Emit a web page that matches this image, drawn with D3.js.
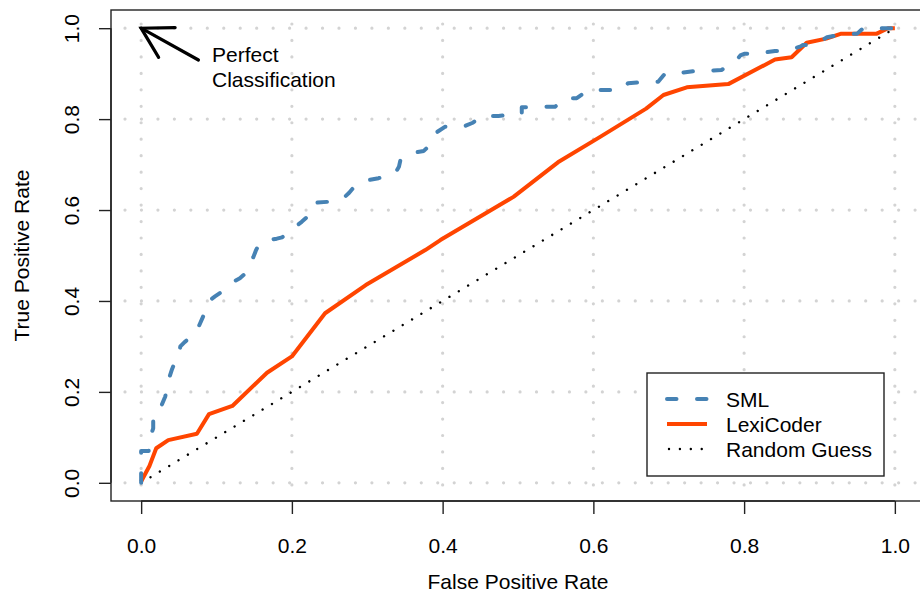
<!DOCTYPE html>
<html>
<head>
<meta charset="utf-8">
<script src="https://cdn.jsdelivr.net/npm/d3@7"></script>
<style>
  html, body { margin: 0; padding: 0; background: #fff; }
  svg { display: block; font-family: "Liberation Sans", Arial, Helvetica, sans-serif; }
</style>
</head>
<body>
<svg id="chart" width="920" height="597"></svg>
<script>
// ---- data ----
const ticks = [0, 0.2, 0.4, 0.6, 0.8, 1.0];
const tickLabels = ["0.0", "0.2", "0.4", "0.6", "0.8", "1.0"];
const seriesNames = ["SML", "LexiCoder", "Random Guess"];

const smlFPR = [0,0,0.01,0.012,0.016,0.016,0.02,0.027,0.032,0.037,0.041,0.046,0.05,0.052,0.058,0.065,0.074,0.078,0.082,0.087,0.09,0.098,0.107,0.113,0.12,0.131,0.138,0.143,0.149,0.152,0.157,0.17,0.18,0.187,0.2,0.206,0.213,0.223,0.228,0.231,0.247,0.26,0.267,0.276,0.282,0.29,0.302,0.315,0.324,0.337,0.342,0.344,0.353,0.365,0.375,0.383,0.388,0.393,0.403,0.415,0.427,0.44,0.45,0.456,0.474,0.49,0.496,0.505,0.505,0.532,0.549,0.56,0.562,0.578,0.59,0.596,0.611,0.638,0.646,0.671,0.686,0.695,0.699,0.718,0.739,0.757,0.77,0.777,0.788,0.795,0.801,0.818,0.841,0.857,0.875,0.878,0.894,0.905,0.91,0.925,0.94,0.95,0.958,0.983,1];
const smlTPR = [0,0.07,0.07,0.10,0.12,0.15,0.16,0.17,0.19,0.23,0.25,0.27,0.28,0.30,0.31,0.32,0.335,0.35,0.365,0.387,0.40,0.41,0.42,0.43,0.44,0.45,0.46,0.477,0.497,0.51,0.527,0.534,0.537,0.54,0.555,0.565,0.574,0.589,0.61,0.616,0.618,0.62,0.624,0.638,0.65,0.66,0.666,0.67,0.675,0.681,0.695,0.71,0.723,0.727,0.73,0.743,0.76,0.772,0.783,0.783,0.783,0.792,0.805,0.807,0.807,0.81,0.812,0.812,0.826,0.827,0.827,0.84,0.846,0.846,0.86,0.864,0.864,0.864,0.879,0.882,0.882,0.9,0.902,0.902,0.907,0.907,0.908,0.915,0.926,0.94,0.944,0.944,0.95,0.95,0.96,0.963,0.963,0.975,0.98,0.985,0.987,0.988,1.0,1.0,1];

const lexFPR = [0,0.011,0.02,0.036,0.074,0.09,0.121,0.167,0.2,0.244,0.298,0.377,0.397,0.494,0.553,0.609,0.670,0.693,0.724,0.779,0.841,0.863,0.883,0.909,0.929,0.976,0.991,1];
const lexTPR = [0.003,0.037,0.076,0.094,0.108,0.151,0.169,0.242,0.278,0.373,0.435,0.512,0.534,0.629,0.705,0.761,0.823,0.853,0.870,0.877,0.931,0.936,0.968,0.977,0.988,0.988,1.0,1];

const randFPR = [0, 1];
const randTPR = [0, 1];

const arrowFrom = [0.076, 0.93];
const arrowTo = [0, 1];
const annotText = ["Perfect", "Classification"];
const annotPos = [0.094, 0.96];

// ---- layout ----
const svg = d3.select("#chart");
const x = d3.scaleLinear().domain([-0.04, 1.04]).range([111, 925]);
const y = d3.scaleLinear().domain([-0.04, 1.04]).range([501, 10]);

const blue = "#4682B4", orange = "#FF4500";
const FS = 21;

svg.append("defs").append("clipPath").attr("id", "clip")
  .append("rect").attr("x", x(-0.04)).attr("y", y(1.04))
  .attr("width", x(1.04) - x(-0.04)).attr("height", y(-0.04) - y(1.04));

const plot = svg.append("g").attr("clip-path", "url(#clip)");

// grid
ticks.forEach(t => {
  plot.append("line")
    .attr("x1", x(-0.04)).attr("x2", x(1.04)).attr("y1", y(t)).attr("y2", y(t))
    .attr("stroke", "#d3d3d3").attr("stroke-width", 3.2)
    .attr("stroke-linecap", "round").attr("stroke-dasharray", "0.01 16.45")
    .attr("stroke-dashoffset", -14);
  plot.append("line")
    .attr("x1", x(t)).attr("x2", x(t)).attr("y1", y(1.04)).attr("y2", y(-0.04))
    .attr("stroke", "#d3d3d3").attr("stroke-width", 3.2)
    .attr("stroke-linecap", "round").attr("stroke-dasharray", "0.01 16.45")
    .attr("stroke-dashoffset", -14);
});

const line = d3.line().x(d => x(d[0])).y(d => y(d[1]));
const zip = (a, b) => a.map((v, i) => [v, b[i]]);

// random guess
plot.append("path").datum(zip(randFPR, randTPR)).attr("d", line)
  .attr("fill", "none").attr("stroke", "#000").attr("stroke-width", 2.4)
  .attr("stroke-linecap", "round").attr("stroke-dasharray", "0.01 10.9");

// lexicoder
plot.append("path").datum(zip(lexFPR, lexTPR)).attr("d", line)
  .attr("fill", "none").attr("stroke", orange).attr("stroke-width", 4)
  .attr("stroke-linejoin", "round");

// SML
plot.append("path").datum(zip(smlFPR, smlTPR)).attr("d", line)
  .attr("fill", "none").attr("stroke", blue).attr("stroke-width", 4)
  .attr("stroke-linecap", "round").attr("stroke-linejoin", "round")
  .attr("stroke-dasharray", "9.5 20.5");

// arrow
const ax0 = x(arrowFrom[0]), ay0 = y(arrowFrom[1]);
const ax1 = x(arrowTo[0]), ay1 = y(arrowTo[1]);
const ang = Math.atan2(ay0 - ay1, ax0 - ax1);
const hl = 34, ha = Math.PI / 6;
const ag = svg.append("g").attr("stroke", "#000").attr("stroke-width", 3.2)
  .attr("stroke-linecap", "round").attr("fill", "none");
ag.append("line").attr("x1", ax0).attr("y1", ay0).attr("x2", ax1).attr("y2", ay1);
ag.append("path").attr("d",
  `M${ax1 + hl * Math.cos(ang - ha)},${ay1 + hl * Math.sin(ang - ha)}L${ax1},${ay1}L${ax1 + hl * Math.cos(ang + ha)},${ay1 + hl * Math.sin(ang + ha)}`)
  .attr("stroke-linejoin", "miter");

// annotation
annotText.forEach((t, i) => {
  svg.append("text").attr("x", x(annotPos[0])).attr("y", 62 + i * 25)
    .attr("font-size", FS).attr("fill", "#000").text(t);
});

// box
svg.append("rect").attr("x", x(-0.04)).attr("y", y(1.04))
  .attr("width", x(1.04) - x(-0.04)).attr("height", y(-0.04) - y(1.04))
  .attr("fill", "none").attr("stroke", "#222").attr("stroke-width", 1.4);

// x axis
const xAxis = d3.axisBottom(x).tickValues(ticks).tickFormat((d, i) => tickLabels[i])
  .tickSizeInner(13).tickSizeOuter(0).tickPadding(30);
const gx = svg.append("g").attr("transform", `translate(0,${y(-0.04)})`).call(xAxis);
gx.select(".domain").attr("d", `M${x(0)},0H${x(1)}`).attr("stroke", "#222").attr("stroke-width", 1.4);
gx.selectAll(".tick line").attr("stroke", "#222").attr("stroke-width", 1.4);
gx.selectAll(".tick text").attr("font-size", FS).attr("fill", "#000")
  .attr("font-family", "Liberation Sans, Arial, sans-serif").attr("dy", "0");
gx.selectAll(".tick text").attr("y", 52);

// y axis
const yAxis = d3.axisLeft(y).tickValues(ticks).tickFormat((d, i) => tickLabels[i])
  .tickSizeInner(12).tickSizeOuter(0);
const gy = svg.append("g").attr("transform", `translate(${x(-0.04)},0)`).call(yAxis);
gy.select(".domain").attr("d", `M0,${y(0)}V${y(1)}`).attr("stroke", "#222").attr("stroke-width", 1.4);
gy.selectAll(".tick line").attr("stroke", "#222").attr("stroke-width", 1.4);
gy.selectAll(".tick text").attr("font-size", FS).attr("fill", "#000")
  .attr("font-family", "Liberation Sans, Arial, sans-serif")
  .attr("x", null).attr("dy", null)
  .attr("transform", "translate(-32,0) rotate(-90)")
  .attr("text-anchor", "middle").attr("y", 0);

// axis titles
svg.append("text").attr("x", (x(0) + x(1)) / 2).attr("y", 589)
  .attr("text-anchor", "middle").attr("font-size", FS).text("False Positive Rate");
svg.append("text").attr("transform", `translate(29,${(y(0) + y(1)) / 2}) rotate(-90)`)
  .attr("text-anchor", "middle").attr("font-size", FS).text("True Positive Rate");

// legend
const lg = svg.append("g");
lg.append("rect").attr("x", 647).attr("y", 373).attr("width", 237).attr("height", 103)
  .attr("fill", "#fff").attr("stroke", "#222").attr("stroke-width", 1.4);
const legStyles = [
  { stroke: blue, w: 4, dash: "9.5 20.5", cap: "round" },
  { stroke: orange, w: 4, dash: null, cap: "butt" },
  { stroke: "#000", w: 2.4, dash: "0.01 10.9", cap: "round" }
];
seriesNames.forEach((n, i) => {
  const cy = 399 + i * 25;
  const s = legStyles[i];
  const l = lg.append("line").attr("x1", i === 2 ? 669 : 667).attr("x2", 707)
    .attr("y1", cy).attr("y2", cy).attr("stroke", s.stroke).attr("stroke-width", s.w)
    .attr("stroke-linecap", s.cap);
  if (s.dash) l.attr("stroke-dasharray", s.dash);
  lg.append("text").attr("x", 726).attr("y", cy + 8).attr("font-size", FS).text(n);
});
</script>
</body>
</html>
